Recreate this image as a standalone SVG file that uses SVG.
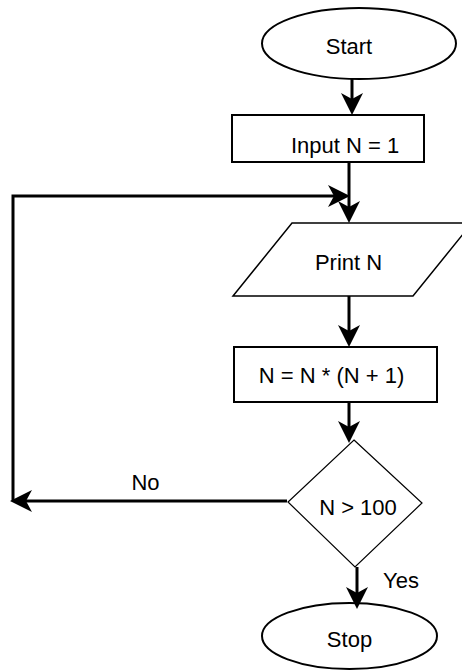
<svg xmlns="http://www.w3.org/2000/svg" width="462" height="672" viewBox="0 0 462 672">
<style>
.shape{fill:#ffffff;stroke:#000000;}
.t{font-family:"Liberation Sans",Arial,sans-serif;font-size:22px;fill:#000000;}
.c{text-anchor:middle;}
.conn{fill:none;stroke:#000000;stroke-width:3;}
</style>
<defs>
<marker id="arr" markerUnits="userSpaceOnUse" markerWidth="24" markerHeight="24" refX="6" refY="12" orient="auto" viewBox="0 0 24 24">
<path d="M0,1 L22,12 L0,23 L6,12 Z" fill="#000000"/>
</marker>
</defs>
<rect width="462" height="672" fill="#ffffff"/>
<g id="start">
<ellipse class="shape" cx="359" cy="43.5" rx="97" ry="35.5" stroke-width="2"/>
<text class="t c" x="349" y="54">Start</text>
</g>
<g id="input">
<rect class="shape" x="232" y="115" width="192" height="47" stroke-width="2"/>
<text class="t" x="291" y="153">Input N = 1</text>
</g>
<g id="print">
<polygon class="shape" points="292,223 472,223 413,296 233,296" stroke-width="1.5"/>
<text class="t c" x="348.5" y="270">Print N</text>
</g>
<g id="compute">
<rect class="shape" x="234" y="347" width="203" height="55" stroke-width="2"/>
<text class="t c" x="331.5" y="383">N = N * (N + 1)</text>
</g>
<g id="decision">
<polygon class="shape" points="354,440 422,503 355,567 288,502" stroke-width="1.2"/>
<text class="t c" x="358" y="515">N &gt; 100</text>
</g>
<g id="stop">
<ellipse class="shape" cx="349.5" cy="636" rx="87.5" ry="33" stroke-width="2"/>
<text class="t c" x="349.5" y="647">Stop</text>
</g>
<g id="connectors">
<line class="conn" x1="352" y1="79" x2="352" y2="99" marker-end="url(#arr)"/>
<line class="conn" x1="349" y1="162" x2="349" y2="207" marker-end="url(#arr)"/>
<polyline class="conn" points="13,501 13,196 334,196" marker-end="url(#arr)"/>
<line class="conn" x1="349" y1="296" x2="349" y2="331" marker-end="url(#arr)"/>
<line class="conn" x1="349" y1="402" x2="349" y2="427" marker-end="url(#arr)"/>
<line class="conn" x1="287" y1="501" x2="26" y2="501" marker-end="url(#arr)"/>
<line class="conn" x1="357" y1="567" x2="357" y2="593" marker-end="url(#arr)"/>
<text class="t c" x="145.5" y="490">No</text>
<text class="t" x="383" y="588">Yes</text>
</g>
</svg>
